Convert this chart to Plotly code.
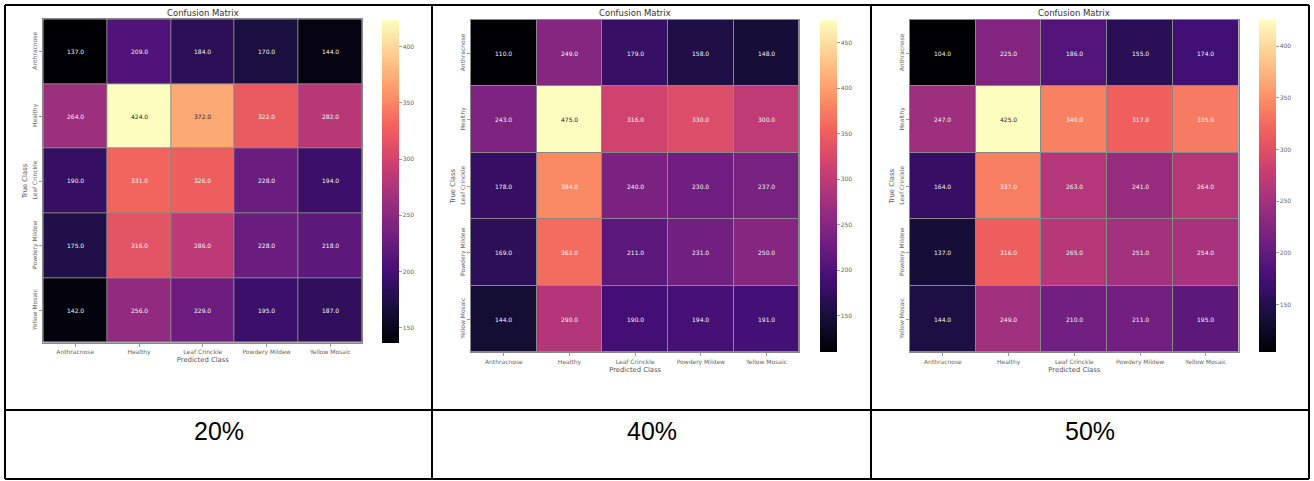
import plotly.graph_objects as go
from plotly.colors import sample_colorscale, sequential

# ---------------- data ----------------
classes = ["Anthracnose", "Healthy", "Leaf Crinckle", "Powdery Mildew", "Yellow Mosaic"]

cm_20 = [
    [137, 209, 184, 170, 144],
    [264, 424, 372, 322, 282],
    [190, 331, 326, 228, 194],
    [175, 316, 286, 228, 218],
    [142, 256, 229, 195, 187],
]
cm_40 = [
    [110, 249, 179, 158, 148],
    [243, 475, 316, 330, 300],
    [178, 384, 240, 230, 237],
    [169, 362, 211, 231, 250],
    [144, 290, 190, 194, 191],
]
cm_50 = [
    [104, 225, 186, 155, 174],
    [247, 425, 340, 317, 335],
    [164, 337, 263, 241, 264],
    [137, 316, 265, 251, 254],
    [144, 249, 210, 211, 195],
]
panel_labels = ["20%", "40%", "50%"]
matrices = [cm_20, cm_40, cm_50]

# ---------------- layout geometry (pixels) ----------------
W, H = 1314, 481
panels = [
    dict(hx=(43.3, 362.3), hy=(19.3, 342.7), cb=382.3, lab_x=219),
    dict(hx=(471, 799.3), hy=(20, 352.3), cb=820, lab_x=652),
    dict(hx=(910, 1238.7), hy=(20, 352.3), cb=1259.3, lab_x=1090),
]

def fx(px):
    return px / W

def fy(py):
    return 1 - py / H

magma = sequential.Magma
cscale = [[i / (len(magma) - 1), c] for i, c in enumerate(magma)]

def lum(rgbstr):
    s = rgbstr[rgbstr.index("(") + 1: rgbstr.index(")")]
    r, g, b = [float(v) / 255 for v in s.split(",")[:3]]
    def lin(c):
        return c / 12.92 if c <= 0.03928 else ((c + 0.055) / 1.055) ** 2.4
    return 0.2126 * lin(r) + 0.7152 * lin(g) + 0.0722 * lin(b)

fig = go.Figure()
annotations = []
layout_axes = {}

for i, (cm, p) in enumerate(zip(matrices, panels)):
    n = "" if i == 0 else str(i + 1)
    xa, ya = "x" + n, "y" + n
    zmin = min(min(r) for r in cm)
    zmax = max(max(r) for r in cm)
    hy0, hy1 = p["hy"]
    fig.add_trace(go.Heatmap(
        z=cm, x=classes, y=classes, xaxis=xa, yaxis=ya,
        colorscale=cscale, zmin=zmin, zmax=zmax, xgap=1, ygap=1,
        hoverinfo="skip",
        colorbar=dict(
            x=fx(p["cb"]), xanchor="left", xpad=0, ypad=0,
            y=fy((hy0 + hy1) / 2), yanchor="middle",
            len=(hy1 - hy0) / H, lenmode="fraction",
            thickness=17.3, thicknessmode="pixels",
            outlinewidth=0, dtick=50,
            ticks="outside", ticklen=3, tickcolor="#999",
            tickfont=dict(size=6, color="#666", family="DejaVu Sans"),
        ),
    ))
    # cell text
    for r, row in enumerate(cm):
        for c, v in enumerate(row):
            col = sample_colorscale(cscale, [(v - zmin) / (zmax - zmin)])[0]
            tc = "#262626" if lum(col) > 0.408 else "#f4f4f4"
            annotations.append(dict(
                x=classes[c], y=classes[r], xref=xa, yref=ya,
                text=f"{v:.1f}", showarrow=False,
                font=dict(size=6, color=tc, family="DejaVu Sans"),
            ))
    # title
    annotations.append(dict(
        x=fx(sum(p["hx"]) / 2), y=fy(13), xref="paper", yref="paper",
        xanchor="center", yanchor="middle", text="Confusion Matrix",
        showarrow=False, font=dict(size=8.5, color="#333", family="DejaVu Sans"),
    ))
    # bottom-row label
    annotations.append(dict(
        x=fx(p["lab_x"]), y=fy(431), xref="paper", yref="paper",
        xanchor="center", yanchor="middle", text=panel_labels[i],
        showarrow=False,
        font=dict(size=25, color="#000", family="Liberation Sans Narrow, Liberation Sans, Arial"),
    ))
    layout_axes["xaxis" + n] = dict(
        domain=[fx(p["hx"][0]), fx(p["hx"][1])], anchor=ya,
        showgrid=False, zeroline=False, showline=True, mirror=True,
        linecolor="#888", linewidth=1,
        ticks="outside", ticklen=3, tickcolor="#999", tickangle=0,
        tickfont=dict(size=6, color="#666", family="DejaVu Sans"),
        title=dict(text="Predicted Class", standoff=2,
                   font=dict(size=6.8, color="#555", family="DejaVu Sans")),
    )
    layout_axes["yaxis" + n] = dict(
        domain=[fy(hy1), fy(hy0)], anchor=xa, autorange="reversed",
        showgrid=False, zeroline=False, showline=True, mirror=True,
        linecolor="#888", linewidth=1,
        ticks="outside", ticklen=3, tickcolor="#999", tickangle=-90,
        tickfont=dict(size=6, color="#666", family="DejaVu Sans"),
        title=dict(text="True Class", standoff=2,
                   font=dict(size=6.8, color="#555", family="DejaVu Sans")),
    )

# table borders
shapes = []
def line(x0, y0, x1, y1):
    shapes.append(dict(type="line", xref="paper", yref="paper",
                       x0=fx(x0), y0=fy(y0), x1=fx(x1), y1=fy(y1),
                       line=dict(color="black", width=2)))
line(5, 5, 1309, 5)
line(5, 410, 1309, 410)
line(5, 479, 1309, 479)
line(5, 5, 5, 479)
line(432, 5, 432, 479)
line(871, 5, 871, 479)
line(1309, 5, 1309, 479)

fig.update_layout(
    width=W, height=H, margin=dict(l=0, r=0, t=0, b=0),
    paper_bgcolor="white", plot_bgcolor="#888",
    annotations=annotations, shapes=shapes, showlegend=False,
    **layout_axes,
)
fig.write_html("out.html")
